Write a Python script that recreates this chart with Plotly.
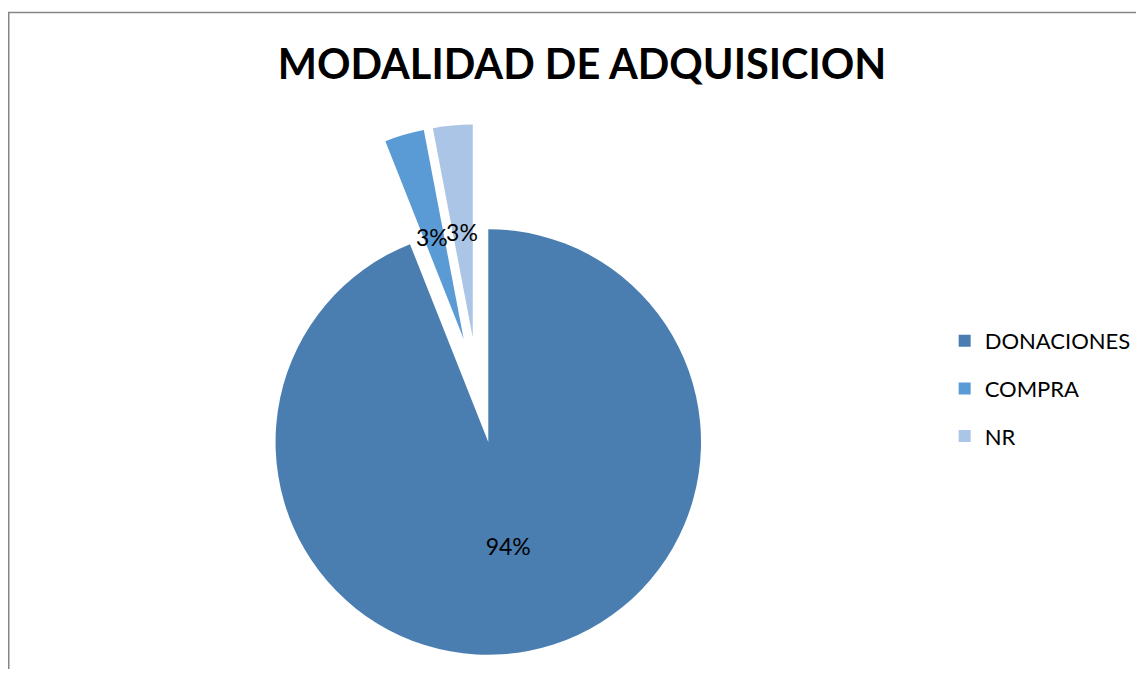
import plotly.graph_objects as go

# ---- data ----
categories = ["DONACIONES", "COMPRA", "NR"]
values = [94, 3, 3]
colors = ["#4A7EB1", "#5B9BD5", "#ABC5E7"]
title_text = "MODALIDAD DE ADQUISICION"

# ---- layout helpers (pixels -> paper fractions) ----
OFF = 8                      # page body margin
W, H = 1144 - 2 * OFF, 677 - 2 * OFF
FONT = "Lato, Carlito, Calibri, 'Open Sans', sans-serif"
TRANSPARENT = "rgba(0,0,0,0)"

def px(x):
    return x - OFF

def dom(cx, cy, half):
    cx, cy = px(cx), px(cy)
    return dict(x=[max(0, (cx - half) / W), min(1, (cx + half) / W)],
                y=[max(0, 1 - (cy + half) / H), min(1, 1 - (cy - half) / H)])

R = 213.5
PULL = 0.23

fig = go.Figure()

common = dict(labels=categories, values=values, sort=False, direction="clockwise",
              rotation=0, textposition="inside", insidetextorientation="horizontal",
              textfont=dict(family=FONT, size=23, color="black"),
              showlegend=False, hoverinfo="skip")

# main (un-exploded) slice
fig.add_trace(go.Pie(
    marker=dict(colors=[colors[0], TRANSPARENT, TRANSPARENT], line=dict(width=0)),
    texttemplate=["%{percent:.0%}", "", ""],
    domain=dom(490, 442, R), **common))

# exploded small slices
fig.add_trace(go.Pie(
    marker=dict(colors=[TRANSPARENT, colors[1], colors[2]], line=dict(width=0)),
    pull=[0, PULL, PULL],
    texttemplate=["", "", ""],
    domain=dom(479, 386, R * (1 + PULL)), **common))

# labels of the small slices
fig.add_trace(go.Pie(
    marker=dict(colors=[TRANSPARENT] * 3, line=dict(width=0)),
    texttemplate=["", "%{percent:.0%}", "%{percent:.0%}"],
    domain=dom(479, 394, 179), **common))

# legend entries
for name, col in zip(categories, colors):
    fig.add_trace(go.Scatter(
        x=[None], y=[None], mode="markers", name=name, legendgroup=name,
        marker=dict(symbol="square", size=12, color=col),
        showlegend=True, hoverinfo="skip",
    ))

fig.update_layout(
    width=W, height=H,
    margin=dict(l=0, r=0, t=0, b=0),
    paper_bgcolor="white", plot_bgcolor="white",
    title=dict(text="<b>" + title_text + "</b>", x=px(582) / W, xanchor="center",
               y=1 - px(64) / H, yanchor="middle",
               font=dict(family=FONT, size=41.5, color="black")),
    xaxis=dict(visible=False), yaxis=dict(visible=False),
    legend=dict(x=px(948) / W, y=1 - px(320) / H, xanchor="left", yanchor="top",
                font=dict(family=FONT, size=22, color="black"),
                tracegroupgap=16, bgcolor=TRANSPARENT),
    uniformtext=dict(minsize=23, mode="show"),
    shapes=[dict(type="rect", xref="paper", yref="paper",
                 x0=0.75 / W, x1=1.05, y0=-0.05, y1=1 - px(12.5) / H,
                 line=dict(color="#868686", width=1.5), fillcolor=TRANSPARENT,
                 layer="below")],
)

fig.write_html("out.html")
